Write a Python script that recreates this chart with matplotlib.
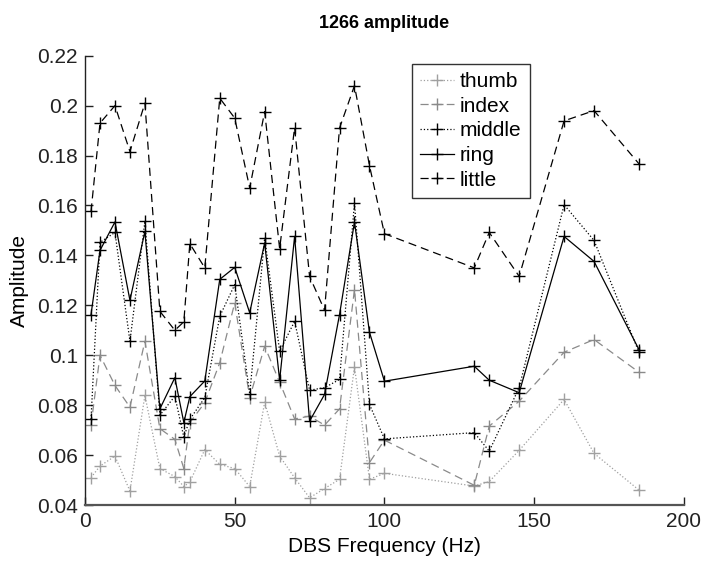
import numpy as np
import matplotlib
matplotlib.use("Agg")
import matplotlib.pyplot as plt

plt.rcParams['font.family'] = ['Liberation Sans', 'DejaVu Sans']

freq = [2, 5, 10, 15, 20, 25, 30, 33, 35, 40, 45, 50, 55, 60, 65, 70, 75, 80, 85,
        90, 95, 100, 130, 135, 145, 160, 170, 185]

thumb = [0.051, 0.0556, 0.0596, 0.0456, 0.0839, 0.0546, 0.0514, 0.0474, 0.0492, 0.0622,
         0.0563, 0.0546, 0.0474, 0.0812, 0.0596, 0.0509, 0.0429, 0.0466, 0.0503,
         0.0954, 0.0503, 0.0527, 0.0476, 0.0494, 0.0619, 0.0823, 0.0607, 0.046]
index = [0.0719, 0.1, 0.0879, 0.0792, 0.1056, 0.0706, 0.0663, 0.0546, 0.073, 0.081,
         0.097, 0.121, 0.083, 0.1036, 0.0892, 0.0745, 0.0756, 0.072, 0.0785,
         0.1263, 0.057, 0.066, 0.0479, 0.0716, 0.0816, 0.1012, 0.1063, 0.0932]
middle = [0.0743, 0.1452, 0.1492, 0.1056, 0.1536, 0.076, 0.0836, 0.0672, 0.0743, 0.083,
          0.1156, 0.1283, 0.0845, 0.147, 0.1016, 0.1136, 0.086, 0.087, 0.0903,
          0.161, 0.0803, 0.0665, 0.069, 0.0616, 0.087, 0.1603, 0.146, 0.1012]
ring = [0.1163, 0.142, 0.1534, 0.122, 0.1496, 0.0785, 0.091, 0.073, 0.0834, 0.0897,
        0.1304, 0.1352, 0.117, 0.145, 0.090, 0.1476, 0.0736, 0.0843, 0.1163,
        0.1534, 0.1092, 0.0896, 0.0956, 0.090, 0.085, 0.1476, 0.1376, 0.1023]
little = [0.1576, 0.193, 0.2, 0.1816, 0.201, 0.1176, 0.110, 0.1134, 0.1447, 0.135,
          0.203, 0.195, 0.167, 0.1976, 0.1427, 0.1912, 0.1316, 0.118, 0.191,
          0.208, 0.176, 0.1487, 0.135, 0.1492, 0.1316, 0.1939, 0.198, 0.1767]

yticks = [0.04, 0.06, 0.08, 0.1, 0.12, 0.14, 0.16, 0.18, 0.2, 0.22]
yticklabels = ['0.04', '0.06', '0.08', '0.1', '0.12', '0.14', '0.16', '0.18', '0.2', '0.22']
xticks = [0, 50, 100, 150, 200]

fig = plt.figure(figsize=(7.05, 5.61), dpi=100)
ax = fig.add_axes([0.1206, 0.0998, 0.8494, 0.8009])

ms = 8
ax.plot(freq, thumb, linestyle=':', color='#a0a0a0', marker='+', ms=ms, lw=0.9, label='thumb')
ax.plot(freq, index, linestyle=(0, (6.5, 4)), color='#8a8a8a', marker='+', ms=ms, lw=0.9, label='index')
ax.plot(freq, middle, linestyle=':', color='black', marker='+', ms=ms, lw=0.9, label='middle')
ax.plot(freq, ring, linestyle='-', color='black', marker='+', ms=ms, lw=0.9, label='ring')
ax.plot(freq, little, linestyle=(0, (6.5, 4)), color='black', marker='+', ms=ms, lw=0.9, label='little')

ax.set_xlim(0, 200)
ax.set_ylim(0.04, 0.22)
ax.set_xticks(xticks)
ax.set_yticks(yticks)
ax.set_yticklabels(yticklabels)
ax.tick_params(direction='in', labelsize=15, length=6, width=1, colors='#222222', pad=5)
for s in ['top', 'right']:
    ax.spines[s].set_visible(False)
ax.spines['left'].set_color('#222222')
ax.spines['left'].set_linewidth(1.0)
ax.spines['bottom'].set_color('#555555')
ax.spines['bottom'].set_linewidth(1.6)

ax.set_xlabel('DBS Frequency (Hz)', fontsize=15, labelpad=4)
ax.set_ylabel('Amplitude', fontsize=15, labelpad=6)
ax.set_title('1266 amplitude', fontsize=13, fontweight='bold', pad=20)

leg = ax.legend(loc='upper left', bbox_to_anchor=(0.546, 0.982), fontsize=15,
                handlelength=1.6, handletextpad=0.3, borderpad=0.4, labelspacing=0.27,
                fancybox=False, framealpha=1, edgecolor='#333333', borderaxespad=0)
leg.get_frame().set_linewidth(1.0)

fig.savefig('out.png', dpi=100)
